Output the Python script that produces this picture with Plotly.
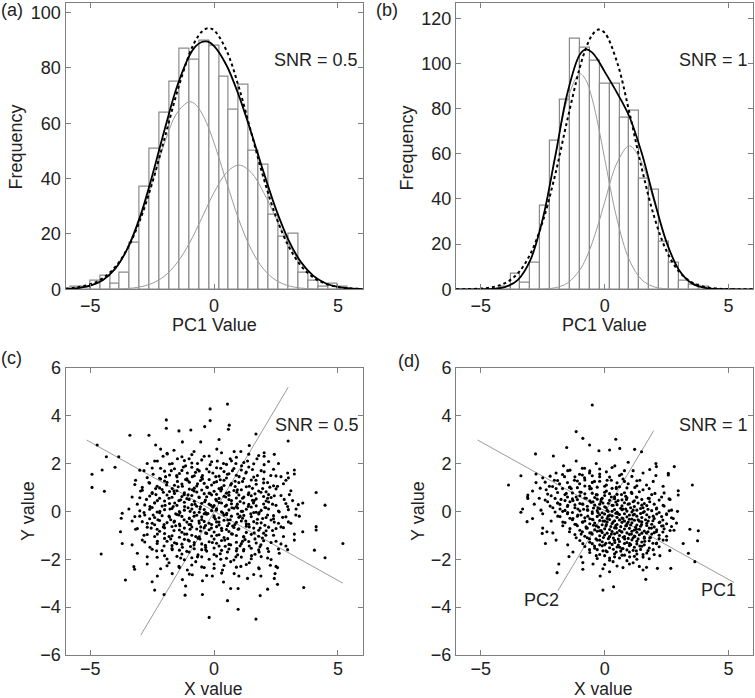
import plotly.graph_objects as go

# ---------------- histogram data (bin width 0.4) ----------------
bin_centers = [-5.6, -5.2, -4.8, -4.4, -4.0, -3.6, -3.2, -2.8, -2.4, -2.0,
               -1.6, -1.2, -0.8, -0.4, 0.0, 0.4, 0.8, 1.2, 1.6, 2.0,
               2.4, 2.8, 3.2, 3.6, 4.0, 4.4, 4.8, 5.2]
counts_a = [1, 1, 3, 5, 2, 6, 17, 37, 51, 64, 75, 87, 83, 90, 88, 77, 65, 74,
            50, 45, 27, 19, 20, 6, 3, 1, 2, 1]
counts_b = [0, 0, 0, 0, 1, 7, 3, 12, 37, 66, 84, 111, 107, 101, 91, 91, 76, 79,
            49, 44, 21, 12, 4, 2, 1, 0, 0, 0]

# fitted curves
curve_x = [-6, -5.5, -5, -4.5, -4, -3.5, -3, -2.5, -2, -1.5, -1, -0.75, -0.5,
           -0.25, 0, 0.5, 1, 1.5, 2, 2.5, 3, 3.5, 4, 4.5, 5, 5.5, 6]
comp1_a = [0.14, 0.45, 1.28, 3.24, 7.27, 14.4, 25.1, 38.8, 52.9, 63.7, 67.8, 66.8,
           63.7, 59.0, 52.9, 38.8, 25.1, 14.4, 7.27, 3.24, 1.28, 0.45, 0.14, 0.04,
           0.01, 0, 0]
comp2_a = [0, 0, 0.01, 0.02, 0.09, 0.29, 0.85, 2.15, 4.8, 9.5, 16.6, 21.0, 25.7,
           30.5, 35.0, 42.2, 44.9, 42.2, 35.0, 25.7, 16.6, 9.5, 4.8, 2.15, 0.85,
           0.29, 0.09]
mix_a = [0.14, 0.45, 1.29, 3.26, 7.36, 14.7, 26.0, 41.0, 57.7, 73.2, 84.4, 87.8,
         89.4, 89.5, 87.9, 81.0, 70.0, 56.6, 42.3, 28.9, 17.9, 9.95, 4.94, 2.19,
         0.86, 0.29, 0.09]
single_a = [0.29, 0.76, 1.81, 3.97, 7.97, 14.7, 24.8, 38.4, 54.6, 71.1, 85.0, 89.9,
            93.1, 94.4, 93.6, 86.3, 73.0, 56.6, 40.2, 26.2, 15.7, 8.6, 4.3, 2.0,
            0.85, 0.33, 0.12]

comp1_b = [0, 0, 0.03, 0.21, 1.06, 4.19, 12.9, 31.0, 57.9, 84.2, 95.4, 92.5, 84.2,
           72.0, 57.9, 31.0, 12.9, 4.19, 1.06, 0.21, 0.03, 0, 0, 0, 0, 0, 0]
comp2_b = [0, 0, 0, 0, 0, 0.01, 0.02, 0.14, 0.70, 2.79, 8.59, 13.7, 20.6, 29.1,
           38.5, 56.0, 63.5, 56.0, 38.5, 20.6, 8.59, 2.79, 0.70, 0.14, 0.02, 0, 0]
mix_b = [0, 0, 0.03, 0.21, 1.06, 4.2, 12.9, 31.1, 58.6, 87.0, 104.0, 106.2, 104.8,
         101.1, 96.4, 87.0, 76.4, 60.2, 39.6, 20.8, 8.6, 2.79, 0.70, 0.14, 0.02, 0, 0]
single_b = [0.02, 0.08, 0.31, 1.0, 2.85, 7.1, 15.6, 30.0, 50.6, 75.3, 98.3, 106.9,
            112.7, 115.0, 113.6, 100.6, 78.2, 53.5, 32.1, 16.9, 7.9, 3.2, 1.15, 0.36,
            0.10, 0.02, 0]

# ---------------- scatter (c), SNR = 0.5 ----------------
outer_c_x = [0.54, -0.16, -1.93, -1.93, -3.4, -4.72, -4.35, -3.85, -4.93, -4.93, -4.43, -4.52,
             -4.0, -4.56, -3.58, -3.24, -3.21, -3.71, -3.78, -3.71, -3.75, -2.5, -2.4, -2.02,
             -1.17, -1.15, -0.47, -0.2, 0.54, 0.97, 1.69, 1.86, 2.16, 0.67, 0.97, 2.56, 2.43,
             3.62, 4.48, 5.2, 4.05, 4.12, 4.12, 4.48, 4.12, 3.24, 3.24, 2.99, 2.43, 1.69, 0.61,
             0.58, -0.16, -0.38, -1.42, -0.94, -2.63, -2.36, 3.58]
outer_c_y = [4.48, 4.28, 3.82, 3.47, 3.18, 2.77, 2.28, 2.28, 1.55, 1.0, 0.84, 1.73,
             1.84, -1.78, -2.87, -2.31, -2.42, -1.34, -0.85, -0.08, -0.29, -2.94, -3.29, -3.47,
             -3.5, -3.12, -3.47, -4.43, -3.73, -4.09, -4.5, -3.52, -3.25, -3.22, -3.22, -3.05,
             -2.8, -3.18, -1.94, -1.34, -1.62, -0.78, -0.64, 0.26, 0.79, 1.73, 1.56, 2.94, 2.38,
             3.23, 3.6, 3.43, 3.79, 3.54, 3.36, 3.4, 3.18, 2.77, -0.85]

band_c_x = [
    -2.16, -1.62, -1.28, -0.81, -0.54, 0.11, 0.20, 0.81, 1.08, 1.42, 2.02,
    -2.70, -2.29, -2.06, -1.89, -1.69, -1.48, -1.15, -1.01, -0.67, -0.40, -0.16, 0.13, 0.38,
    0.65, 0.88, 1.11, 1.35, 1.73, 2.02, 2.02,
    -2.83, -2.46, -2.16, -1.96, -1.73, -1.51, -1.24, -1.08, -0.88, -0.67, -0.47, -0.20, 0.07,
    0.27, 0.54, 0.74, 1.01, 1.28, 1.55, 1.75, 2.02, 2.29, 2.70, 2.97,
    -3.17, -2.90, -2.63, -2.36, -2.16, -1.92, -1.69, -1.48, -1.28, -1.08, -0.88, -0.67, -0.47,
    -0.27, 0.0, 0.20, 0.40, 0.67, 0.94, 1.15, 1.42, 1.69, 1.96, 2.16, 2.56, 2.90, 3.04,
    -3.31, -2.97, -2.73, -2.50, -2.29, -2.05, -1.82, -1.62, -1.42, -1.21, -1.01, -0.81, -0.61,
    -0.38, -0.16, 0.07, 0.27, 0.47, 0.70, 0.92, 1.15, 1.38, 1.62, 1.89, 2.16, 2.43, 2.83,
    3.17, 3.58,
    -3.44, -3.10, -2.83, -2.59, -2.40, -2.19, -1.98, -1.78, -1.59, -1.38, -1.19, -0.97, -0.77,
    -0.57, -0.34, -0.13, 0.09, 0.30, 0.51, 0.72, 0.94, 1.15, 1.38, 1.59, 1.82, 2.09, 2.36,
    2.63, 2.97, 3.31,
    -3.31, -3.0, -2.70, -2.46, -2.27, -2.02, -1.82, -1.62, -1.42, -1.21, -1.01, -0.81, -0.61,
    -0.40, -0.20, 0.0, 0.20, 0.40, 0.65, 0.84, 1.05, 1.28, 1.48, 1.73, 1.96, 2.16, 2.43, 2.77,
    3.10, 3.44,
    -3.17, -2.83, -2.54, -2.29, -2.05, -1.82, -1.62, -1.38, -1.19, -0.97, -0.74, -0.54, -0.34,
    -0.11, 0.11, 0.31, 0.54, 0.74, 0.97, 1.19, 1.42, 1.62, 1.86, 2.09, 2.36, 2.70, 3.24,
    -3.31, -2.90, -2.59, -2.29, -2.02, -1.75, -1.51, -1.28, -1.05, -0.81, -0.57, -0.34, -0.07,
    0.20, 0.43, 0.67, 0.92, 1.15, 1.42, 1.65, 1.89, 2.16, 2.50, 2.90, 3.24,
    -3.10, -2.70, -2.32, -2.0, -1.69, -1.35, -1.01, -0.67, -0.34, 0.0, 0.27, 0.54, 0.88, 1.19,
    1.51, 1.82, 2.16, 2.63, 2.97,
    -2.70, -2.16, -1.82, -1.42, -1.08, -0.74, -0.40, 0.0, 0.34, 0.67, 1.08, 1.42, 1.82, 2.27,
    2.50, 2.56,
    -2.29, -1.69, -1.28, -0.88, -0.47, -0.07, 0.38, 0.81, 1.35, 1.89, 2.46,
]
band_c_y = [
    2.6, 2.55, 2.9, 2.5, 2.9, 2.6, 3.0, 2.5, 2.5, 2.75, 2.45,
    2.0, 2.1, 2.3, 2.4, 2.0, 2.2, 1.9, 2.2, 2.0, 2.3, 1.95, 2.1, 2.0, 2.2, 2.0, 1.9, 2.1, 2.2,
    1.95, 2.3,
    1.7, 1.55, 1.8, 1.45, 1.7, 1.5, 1.85, 1.6, 1.45, 1.75, 1.5, 1.65, 1.45, 1.8, 1.55, 1.7,
    1.45, 1.6, 1.75, 1.5, 1.65, 1.5, 1.45, 1.6,
    1.3, 1.0, 1.2, 0.95, 1.35, 1.1, 0.95, 1.25, 1.05, 1.3, 0.9, 1.15, 1.35, 1.0, 1.2, 0.95,
    1.3, 1.1, 0.9, 1.25, 1.05, 1.3, 0.95, 1.2, 1.05, 1.3, 0.7,
    0.6, 0.85, 0.5, 0.75, 0.45, 0.8, 0.55, 0.85, 0.45, 0.7, 0.5, 0.85, 0.6, 0.4, 0.75, 0.5,
    0.85, 0.6, 0.45, 0.8, 0.55, 0.7, 0.45, 0.8, 0.55, 0.65, 0.5, 0.45, 0.35,
    0.1, 0.3, -0.05, 0.2, 0.35, 0.0, 0.25, 0.1, 0.35, -0.05, 0.2, 0.0, 0.3, 0.1, -0.05, 0.25,
    0.05, 0.35, -0.08, 0.15, 0.3, 0.0, 0.2, 0.35, -0.05, 0.15, 0.3, -0.02, 0.2, 0.1,
    -0.4, -0.2, -0.5, -0.15, -0.35, -0.55, -0.2, -0.45, -0.15, -0.35, -0.55, -0.2, -0.4, -0.1,
    -0.5, -0.25, -0.45, -0.15, -0.35, -0.55, -0.2, -0.4, -0.1, -0.5, -0.3, -0.15, -0.45,
    -0.25, -0.5, -0.2,
    -0.75, -1.0, -0.7, -0.95, -0.65, -1.05, -0.8, -0.6, -0.95, -0.75, -1.05, -0.65, -0.9,
    -0.7, -1.0, -0.8, -0.6, -0.95, -0.75, -1.05, -0.65, -0.9, -0.7, -1.0, -0.8, -0.65, -0.95,
    -1.4, -1.2, -1.5, -1.25, -1.45, -1.15, -1.35, -1.5, -1.2, -1.4, -1.15, -1.5, -1.3, -1.45,
    -1.2, -1.4, -1.55, -1.25, -1.45, -1.15, -1.4, -1.55, -1.25, -1.45, -1.2,
    -1.75, -1.9, -1.65, -1.85, -1.6, -1.95, -1.7, -1.9, -1.6, -1.8, -2.0, -1.7, -1.9, -1.65,
    -1.85, -1.7, -1.95, -1.75, -1.6,
    -2.2, -2.4, -2.15, -2.3, -2.45, -2.1, -2.35, -2.2, -2.45, -2.1, -2.3, -2.15, -2.4, -2.25,
    -2.3, -2.35,
    -2.7, -2.6, -2.85, -2.65, -2.9, -2.7, -2.95, -2.6, -2.8, -2.7, -2.6,
]

fill_c_x = [
    -1.9, -1.3, -0.9, -0.2, 0.3, 0.9, 1.4, 1.8,
    -2.4, -1.8, -1.2, -0.9, -0.5, -0.1, 0.5, 0.7, 1.2, 1.6, 2.2, 2.6,
    -3.0, -2.5, -2.0, -1.6, -1.3, -0.9, -0.6, -0.3, 0.1, 0.4, 0.8, 1.1, 1.4, 1.9, 2.4,
    -2.7, -2.2, -1.8, -1.5, -1.1, -0.8, -0.5, -0.2, 0.2, 0.5, 0.9, 1.2, 1.6, 2.0, 2.5, 3.0,
    -3.2, -2.6, -2.3, -1.9, -1.6, -1.3, -1.0, -0.7, -0.4, -0.1, 0.1, 0.4, 0.7, 1.0, 1.3, 1.7,
    2.0, 2.4, 2.8,
    -2.9, -2.5, -2.1, -1.8, -1.5, -1.2, -1.0, -0.7, -0.5, -0.2, 0.0, 0.3, 0.6, 0.8, 1.1, 1.4,
    1.8, 2.1, 2.5, 3.1,
    -3.0, -2.6, -2.2, -1.9, -1.7, -1.3, -1.1, -0.9, -0.6, -0.3, -0.1, 0.2, 0.4, 0.6, 0.9, 1.2,
    1.5, 1.7, 2.0, 2.3, 2.7,
    -2.8, -2.4, -2.1, -1.8, -1.5, -1.2, -0.9, -0.7, -0.5, -0.2, 0.0, 0.2, 0.5, 0.7, 0.9, 1.2,
    1.4, 1.7, 2.0, 2.2, 2.5, 2.9, 3.4,
    -3.0, -2.6, -2.3, -2.0, -1.7, -1.4, -1.2, -0.9, -0.6, -0.4, -0.1, 0.1, 0.3, 0.6, 0.8, 1.1,
    1.3, 1.6, 1.9, 2.2, 2.6, 3.0,
    -3.2, -2.8, -2.4, -2.1, -1.8, -1.5, -1.3, -1.0, -0.7, -0.5, -0.3, 0.0, 0.2, 0.5, 0.7, 1.0,
    1.2, 1.5, 1.8, 2.1, 2.4, 2.9, 3.3,
    -2.9, -2.5, -2.2, -1.9, -1.6, -1.4, -1.1, -0.9, -0.6, -0.4, -0.1, 0.1, 0.4, 0.6, 0.9, 1.1,
    1.3, 1.6, 1.9, 2.3, 2.6, 3.0,
    -3.1, -2.7, -2.3, -2.0, -1.7, -1.4, -1.2, -0.9, -0.7, -0.4, -0.2, 0.1, 0.3, 0.5, 0.8, 1.0,
    1.3, 1.6, 1.8, 2.2, 2.5, 2.8,
    -2.7, -2.4, -2.0, -1.7, -1.4, -1.1, -0.9, -0.6, -0.3, -0.1, 0.2, 0.4, 0.7, 0.9, 1.2, 1.5,
    1.8, 2.0, 2.4, 2.8,
    -2.8, -2.3, -1.9, -1.6, -1.3, -1.0, -0.8, -0.5, -0.2, 0.1, 0.3, 0.6, 0.9, 1.1, 1.4, 1.7,
    2.0, 2.3, 2.7,
    -2.5, -2.1, -1.7, -1.4, -1.1, -0.8, -0.5, -0.3, 0.0, 0.3, 0.6, 0.9, 1.2, 1.5, 1.8, 2.2, 2.6,
    -2.3, -1.9, -1.5, -1.2, -0.9, -0.5, -0.2, 0.1, 0.5, 0.8, 1.1, 1.5, 1.9, 2.3,
    -1.9, -1.4, -0.9, -0.5, 0.0, 0.4, 0.9, 1.3, 1.8,
    -1.0, -0.3, 0.3, 1.0, 1.6,
]
fill_c_y = [
    2.42, 2.28, 2.37, 2.31, 2.45, 2.26, 2.39, 2.33,
    2.1, 1.98, 2.12, 2.02, 2.15, 2.07, 1.96, 2.11, 2.04, 1.99, 2.08, 2.0,
    1.72, 1.81, 1.68, 1.78, 1.71, 1.84, 1.69, 1.77, 1.82, 1.66, 1.79, 1.73, 1.85, 1.7, 1.76,
    1.41, 1.38, 1.52, 1.44, 1.36, 1.49, 1.42, 1.33, 1.47, 1.39, 1.51, 1.37, 1.43, 1.35, 1.48, 1.4,
    1.12, 1.18, 1.05, 1.21, 1.09, 1.14, 1.22, 1.06, 1.17, 1.1, 1.24, 1.08, 1.16, 1.2, 1.03, 1.13,
    1.19, 1.07, 1.15,
    0.88, 0.79, 0.91, 0.83, 0.86, 0.78, 0.93, 0.81, 0.89, 0.76, 0.84, 0.92, 0.8, 0.87, 0.9, 0.77,
    0.85, 0.82, 0.94, 0.86,
    0.57, 0.64, 0.55, 0.68, 0.59, 0.62, 0.53, 0.66, 0.58, 0.61, 0.69, 0.54, 0.63, 0.67, 0.56, 0.6,
    0.65, 0.52, 0.62, 0.58, 0.66,
    0.27, 0.36, 0.22, 0.33, 0.25, 0.38, 0.28, 0.21, 0.34, 0.3, 0.24, 0.37, 0.26, 0.32, 0.2, 0.35,
    0.29, 0.23, 0.31, 0.39, 0.25, 0.33, 0.28,
    0.02, 0.09, -0.03, 0.07, 0.12, -0.01, 0.05, 0.1, -0.04, 0.08, 0.03, 0.11, -0.02, 0.06, 0.13,
    0.0, 0.09, -0.05, 0.04, 0.1, 0.01, 0.07,
    -0.22, -0.15, -0.26, -0.18, -0.24, -0.13, -0.21, -0.28, -0.16, -0.23, -0.12, -0.19, -0.27,
    -0.14, -0.2, -0.25, -0.17, -0.22, -0.11, -0.26, -0.18, -0.23, -0.15,
    -0.43, -0.5, -0.38, -0.47, -0.41, -0.53, -0.45, -0.39, -0.49, -0.42, -0.55, -0.44, -0.37,
    -0.51, -0.46, -0.4, -0.52, -0.43, -0.48, -0.36, -0.5, -0.44,
    -0.72, -0.66, -0.75, -0.69, -0.63, -0.78, -0.7, -0.65, -0.74, -0.68, -0.77, -0.64, -0.71,
    -0.76, -0.67, -0.73, -0.62, -0.7, -0.79, -0.66, -0.72, -0.68,
    -0.97, -1.05, -0.93, -1.02, -1.08, -0.95, -1.0, -1.06, -0.92, -1.03, -0.98, -1.09, -0.94,
    -1.01, -1.07, -0.96, -1.04, -0.91, -1.0, -1.05,
    -1.28, -1.34, -1.25, -1.31, -1.37, -1.24, -1.3, -1.36, -1.27, -1.33, -1.22, -1.38, -1.29,
    -1.35, -1.26, -1.32, -1.23, -1.3, -1.36,
    -1.58, -1.64, -1.55, -1.62, -1.67, -1.56, -1.6, -1.66, -1.53, -1.63, -1.57, -1.65, -1.59,
    -1.54, -1.61, -1.68, -1.57,
    -1.92, -1.99, -1.88, -2.02, -1.94, -1.9, -2.0, -1.87, -1.96, -2.03, -1.91, -1.98, -1.89, -2.01,
    -2.27, -2.35, -2.24, -2.32, -2.38, -2.26, -2.33, -2.22, -2.36,
    -2.62, -2.68, -2.58, -2.7, -2.64,
]

core_c_x = [
    -1.4, -0.75, -0.05, 0.6, 1.3,
    -2.0, -1.15, -0.55, 0.25, 0.85, 1.5,
    -2.2, -1.45, -0.8, -0.3, 0.3, 0.85, 1.55, 2.25,
    -2.35, -1.6, -1.05, -0.4, 0.1, 0.5, 1.0, 1.65, 2.2,
    -2.0, -1.35, -0.8, -0.35, 0.1, 0.6, 1.05, 1.55, 2.1,
    -2.5, -1.65, -1.05, -0.55, -0.05, 0.45, 0.95, 1.5, 2.05,
    -2.2, -1.55, -0.8, -0.25, 0.35, 0.95, 1.7,
    -2.6, -1.75, -1.0, -0.5, 0.05, 0.55, 1.15, 1.75, 2.4,
    -2.4, -1.55, -0.95, -0.35, 0.2, 0.75, 1.4, 2.05,
    -2.2, -1.3, -0.55, 0.0, 0.6, 1.3, 2.1,
    -2.0, -1.2, -0.65, 0.0, 0.55, 1.25, 1.95,
    -1.7, -0.95, -0.35, 0.45, 1.05, 1.85,
    -1.3, -0.65, 0.25, 0.95, 1.65,
]
core_c_y = [
    1.58, 1.63, 1.6, 1.57, 1.64,
    1.27, 1.33, 1.29, 1.32, 1.26, 1.31,
    0.98, 1.03, 0.97, 1.02, 0.99, 1.04, 0.96, 1.01,
    0.7, 0.75, 0.69, 0.74, 0.71, 0.76, 0.68, 0.73, 0.7,
    0.43, 0.48, 0.42, 0.47, 0.44, 0.49, 0.41, 0.46, 0.43,
    0.16, 0.2, 0.15, 0.19, 0.17, 0.21, 0.14, 0.18, 0.16,
    -0.06, -0.1, -0.05, -0.09, -0.07, -0.11, -0.04,
    -0.31, -0.35, -0.3, -0.34, -0.32, -0.36, -0.29, -0.33, -0.31,
    -0.56, -0.6, -0.55, -0.59, -0.57, -0.61, -0.54, -0.58,
    -0.83, -0.87, -0.82, -0.86, -0.84, -0.88, -0.81,
    -1.13, -1.17, -1.12, -1.16, -1.14, -1.18, -1.11,
    -1.43, -1.47, -1.42, -1.46, -1.44, -1.48,
    -1.78, -1.82, -1.77, -1.81, -1.79,
]

# ---------------- scatter (d), SNR = 1 ----------------
outer_d_x = [-0.5, -1.15, -0.88, 0.45, -0.61, -1.53, -0.23, -2.79, -2.07, 0.2, 0.61, 1.21, 1.49,
             2.07, 2.09, 2.81, 2.57, 2.57, -3.88, -3.38, -2.77, 3.54, 2.97, 2.97, 2.94, -3.38,
             -3.13, -3.1, -3.1, -2.52, -2.33, 3.78, 3.75, 3.44, 3.17, 3.38, 3.64, 2.63, 2.67,
             2.13, 1.66, 1.69, 0.36, -0.07, -0.18, 0.2, -0.88, -1.85, -1.92, -1.44, -0.88, -2.39]
outer_d_y = [4.44, 3.33, 3.05, 3.01, 2.77, 2.67, 2.53, 2.4, 2.31, 2.56, 2.63, 2.59, 2.49,
             2.0, 1.87, 1.87, 1.59, 1.52, 1.1, 1.49, 1.56, 1.1, 0.86, 0.68, 0.0, -0.04,
             -0.43, 0.68, 0.54, -0.92, -0.85, -0.81, -1.23, -0.75, -1.34, -1.75, -2.1, -1.64,
             -2.38, -2.38, -2.84, -2.34, -3.15, -3.29, -2.7, -2.52, -2.42, -2.2, -2.56, -1.89,
             -2.14, -1.34]

band_d_x = [
    -1.96, -1.66, -1.49, -1.15, -1.01, -0.81, -0.61, -0.34, 0.07, 0.41, 0.68, 0.95, 1.15,
    1.55, 1.82, 2.07,
    -2.77, -2.5, -2.23, -2.03, -1.82, -1.62, -1.42, -1.22, -1.01, -0.81, -0.61, -0.41, -0.20,
    0.07, 0.27, 0.47, 0.74, 0.95, 1.22, 1.42, 1.69, 1.96, 2.36,
    -3.11, -2.91, -2.64, -2.36, -2.16, -1.96, -1.76, -1.55, -1.35, -1.15, -0.95, -0.74, -0.54,
    -0.34, -0.14, 0.07, 0.27, 0.47, 0.68, 0.88, 1.08, 1.28, 1.55, 1.76, 2.03, 2.30, 2.64,
    -3.31, -2.84, -2.57, -2.30, -2.09, -1.89, -1.69, -1.49, -1.28, -1.08, -0.88, -0.68, -0.47,
    -0.27, -0.07, 0.14, 0.34, 0.54, 0.74, 0.95, 1.15, 1.35, 1.55, 1.82, 2.09, 2.36, 2.70,
    -2.91, -2.5, -2.16, -1.89, -1.69, -1.49, -1.28, -1.08, -0.88, -0.68, -0.47, -0.27, -0.07,
    0.14, 0.34, 0.54, 0.74, 0.95, 1.15, 1.35, 1.55, 1.76, 1.96, 2.23, 2.50, 2.77,
    -2.5, -2.09, -1.69, -1.42, -1.15, -0.95, -0.74, -0.54, -0.34, -0.14, 0.07, 0.27, 0.47,
    0.68, 0.88, 1.08, 1.28, 1.49, 1.69, 1.89, 2.09, 2.36, 2.64,
    -1.96, -1.49, -1.15, -0.88, -0.61, -0.41, -0.20, 0.0, 0.20, 0.41, 0.61, 0.81, 1.01, 1.22,
    1.42, 1.62, 1.82, 2.09, 2.36,
    -1.28, -0.95, -0.61, -0.34, -0.07, 0.20, 0.47, 0.74, 1.01, 1.28, 1.55, 1.96, 2.23,
    -0.47, -0.07, 0.34, 0.74, 1.15, 1.55,
]
band_d_y = [
    1.6, 1.9, 1.7, 2.1, 1.55, 1.8, 1.6, 2.0, 1.65, 1.9, 1.55, 2.05, 1.7, 1.6, 1.75, 1.5,
    1.2, 1.4, 1.05, 1.3, 1.15, 1.45, 1.0, 1.3, 1.15, 1.4, 1.05, 1.25, 1.45, 1.1, 1.3, 1.0,
    1.35, 1.15, 1.0, 1.3, 1.1, 1.25, 1.05,
    0.6, 0.85, 0.55, 0.9, 0.65, 0.95, 0.5, 0.75, 0.95, 0.6, 0.8, 0.55, 0.95, 0.7, 0.5, 0.85,
    0.6, 0.95, 0.7, 0.5, 0.8, 0.6, 0.9, 0.55, 0.75, 0.6, 0.5,
    0.1, 0.3, 0.05, 0.4, 0.15, 0.35, 0.0, 0.25, 0.45, 0.1, 0.3, 0.05, 0.4, 0.15, 0.35, 0.0,
    0.25, 0.45, 0.1, 0.3, 0.05, 0.35, 0.15, 0.4, 0.1, 0.25, 0.05,
    -0.3, -0.1, -0.4, -0.2, -0.45, -0.05, -0.3, -0.15, -0.45, -0.2, -0.35, -0.05, -0.4, -0.2,
    -0.45, -0.1, -0.3, -0.45, -0.15, -0.35, -0.05, -0.4, -0.2, -0.45, -0.1, -0.3,
    -0.7, -0.9, -0.6, -0.85, -0.55, -0.95, -0.7, -0.9, -0.6, -0.8, -0.55, -0.95, -0.7, -0.85,
    -0.6, -0.95, -0.75, -0.55, -0.9, -0.7, -0.85, -0.6, -0.8,
    -1.2, -1.4, -1.1, -1.35, -1.15, -1.45, -1.2, -1.4, -1.05, -1.3, -1.5, -1.15, -1.35, -1.05,
    -1.45, -1.25, -1.1, -1.35, -1.2,
    -1.7, -1.9, -1.6, -1.85, -1.65, -1.95, -1.7, -1.55, -1.9, -1.65, -1.8, -1.6, -1.85,
    -2.2, -2.4, -2.1, -2.35, -2.15, -2.45,
]

fill_d_x = [
    -1.4, -0.9, -0.6, -0.2, 0.3, 0.8,
    -2.2, -1.7, -1.2, -0.9, -0.5, -0.2, 0.2, 0.6, 1.1,
    -2.4, -1.9, -1.5, -1.1, -0.8, -0.5, -0.2, 0.1, 0.5, 0.8, 1.3,
    -2.6, -2.1, -1.7, -1.4, -1.1, -0.8, -0.6, -0.3, 0.0, 0.3, 0.6, 0.9, 1.3, 1.8,
    -2.3, -1.9, -1.6, -1.3, -1.0, -0.8, -0.5, -0.3, 0.0, 0.2, 0.5, 0.8, 1.1, 1.4, 1.9, 2.4,
    -2.4, -2.0, -1.6, -1.3, -1.1, -0.8, -0.6, -0.3, -0.1, 0.2, 0.4, 0.7, 0.9, 1.2, 1.5, 1.8,
    2.2, 2.6,
    -2.2, -1.8, -1.5, -1.2, -0.9, -0.7, -0.4, -0.2, 0.0, 0.3, 0.5, 0.7, 1.0, 1.2, 1.5, 1.7,
    2.0, 2.4,
    -2.0, -1.6, -1.3, -1.0, -0.7, -0.5, -0.3, -0.1, 0.1, 0.3, 0.5, 0.7, 0.9, 1.1, 1.3, 1.6,
    1.9, 2.2, 2.6,
    -1.8, -1.4, -1.1, -0.8, -0.6, -0.3, -0.1, 0.1, 0.3, 0.5, 0.7, 0.9, 1.1, 1.3, 1.5, 1.8,
    2.0, 2.3, 2.7,
    -1.6, -1.2, -0.9, -0.6, -0.4, -0.1, 0.1, 0.3, 0.5, 0.7, 0.9, 1.1, 1.3, 1.5, 1.7, 1.9,
    2.2, 2.5, 2.9,
    -1.4, -1.0, -0.7, -0.4, -0.2, 0.0, 0.2, 0.4, 0.6, 0.8, 1.0, 1.2, 1.4, 1.6, 1.8, 2.1,
    2.4, 2.8,
    -1.2, -0.8, -0.5, -0.2, 0.0, 0.2, 0.4, 0.6, 0.8, 1.0, 1.2, 1.4, 1.6, 1.9, 2.2, 2.5,
    -1.0, -0.6, -0.3, -0.1, 0.2, 0.4, 0.6, 0.9, 1.1, 1.3, 1.5, 1.8, 2.1, 2.5,
    -0.8, -0.4, -0.1, 0.2, 0.5, 0.7, 1.0, 1.2, 1.5, 1.8, 2.2,
    -0.6, -0.2, 0.1, 0.4, 0.7, 1.0, 1.3, 1.7, 2.0,
    -0.3, 0.2, 0.6, 0.9, 1.3, 1.8,
    0.0, 0.5, 1.0, 1.4,
]
fill_d_y = [
    1.72, 1.8, 1.69, 1.77, 1.83, 1.7,
    1.47, 1.54, 1.44, 1.52, 1.49, 1.56, 1.43, 1.5, 1.46,
    1.22, 1.29, 1.2, 1.27, 1.31, 1.21, 1.26, 1.3, 1.19, 1.25, 1.28,
    0.97, 1.04, 0.95, 1.02, 0.99, 1.06, 0.94, 1.01, 1.05, 0.96, 1.03, 0.98, 1.07, 0.95,
    0.72, 0.79, 0.7, 0.77, 0.81, 0.73, 0.76, 0.69, 0.8, 0.74, 0.71, 0.78, 0.75, 0.82, 0.7, 0.77,
    0.47, 0.54, 0.45, 0.52, 0.49, 0.56, 0.44, 0.51, 0.55, 0.46, 0.53, 0.48, 0.57, 0.44, 0.5,
    0.54, 0.47, 0.52,
    0.22, 0.29, 0.2, 0.27, 0.31, 0.21, 0.26, 0.3, 0.19, 0.25, 0.28, 0.23, 0.32, 0.2, 0.26,
    0.24, 0.3, 0.22,
    -0.03, 0.04, -0.05, 0.02, 0.06, -0.02, 0.03, -0.06, 0.05, 0.0, -0.04, 0.07, 0.01, -0.03,
    0.05, -0.01, 0.03, -0.05, 0.02,
    -0.22, -0.29, -0.2, -0.27, -0.31, -0.21, -0.26, -0.3, -0.19, -0.25, -0.28, -0.23, -0.32,
    -0.2, -0.26, -0.24, -0.3, -0.22, -0.27,
    -0.47, -0.54, -0.45, -0.52, -0.49, -0.56, -0.44, -0.51, -0.55, -0.46, -0.53, -0.48, -0.57,
    -0.44, -0.5, -0.54, -0.47, -0.52, -0.49,
    -0.72, -0.79, -0.7, -0.77, -0.81, -0.73, -0.76, -0.69, -0.8, -0.74, -0.71, -0.78, -0.75,
    -0.82, -0.7, -0.77, -0.73, -0.79,
    -0.97, -1.04, -0.95, -1.02, -0.99, -1.06, -0.94, -1.01, -1.05, -0.96, -1.03, -0.98, -1.07,
    -0.95, -1.0, -1.04,
    -1.22, -1.29, -1.2, -1.27, -1.31, -1.21, -1.26, -1.3, -1.19, -1.25, -1.28, -1.23, -1.32, -1.2,
    -1.47, -1.54, -1.44, -1.52, -1.49, -1.56, -1.43, -1.5, -1.46, -1.53, -1.48,
    -1.72, -1.8, -1.69, -1.77, -1.83, -1.7, -1.78, -1.74, -1.8,
    -1.97, -2.04, -1.95, -2.06, -2.0, -1.98,
    -2.22, -2.28, -2.2, -2.3,
]

core_d_x = [
    -1.5, -1.0, -0.4, 0.0, 0.4, 0.85, 1.3,
    -1.9, -1.4, -1.0, -0.55, -0.15, 0.15, 0.45, 0.8, 1.15, 1.6,
    -1.8, -1.2, -0.85, -0.45, -0.2, 0.05, 0.4, 0.65, 0.85, 1.05, 1.45, 1.75, 2.1,
    -1.5, -0.95, -0.5, -0.2, 0.0, 0.2, 0.45, 0.6, 0.8, 1.0, 1.2, 1.45, 1.7, 2.1, 2.5,
    -1.3, -0.8, -0.5, -0.2, 0.0, 0.2, 0.4, 0.6, 0.8, 1.0, 1.2, 1.4, 1.65, 1.95, 2.35,
    -1.1, -0.75, -0.45, -0.25, 0.05, 0.25, 0.45, 0.65, 0.85, 1.05, 1.25, 1.45, 1.7, 2.0, 2.3, 2.7,
    -0.9, -0.6, -0.3, -0.1, 0.1, 0.3, 0.5, 0.7, 0.9, 1.1, 1.3, 1.5, 1.75, 2.0, 2.35,
    -0.7, -0.35, -0.05, 0.15, 0.35, 0.55, 0.75, 0.95, 1.15, 1.35, 1.6, 1.85, 2.2,
    -0.5, -0.2, 0.05, 0.3, 0.55, 0.8, 1.05, 1.3, 1.6, 1.95,
    -0.3, 0.05, 0.35, 0.65, 0.9, 1.15, 1.45, 1.75,
    0.0, 0.4, 0.8, 1.2, 1.55,
]
core_d_y = [
    0.6, 0.65, 0.58, 0.66, 0.61, 0.63, 0.59,
    0.35, 0.4, 0.33, 0.38, 0.41, 0.34, 0.39, 0.36, 0.4, 0.33,
    0.1, 0.15, 0.09, 0.14, 0.11, 0.16, 0.08, 0.13, 0.1, 0.15, 0.12, 0.09, 0.14,
    -0.1, -0.15, -0.09, -0.14, -0.11, -0.16, -0.08, -0.13, -0.1, -0.15, -0.12, -0.09, -0.14,
    -0.11, -0.13,
    -0.35, -0.4, -0.33, -0.38, -0.41, -0.34, -0.39, -0.36, -0.4, -0.33, -0.37, -0.41, -0.35,
    -0.39, -0.36,
    -0.6, -0.65, -0.58, -0.66, -0.61, -0.63, -0.59, -0.64, -0.6, -0.57, -0.66, -0.62, -0.59,
    -0.65, -0.61, -0.63,
    -0.85, -0.9, -0.83, -0.88, -0.91, -0.84, -0.89, -0.86, -0.9, -0.83, -0.87, -0.91, -0.85,
    -0.89, -0.86,
    -1.1, -1.15, -1.09, -1.14, -1.11, -1.16, -1.08, -1.13, -1.1, -1.15, -1.12, -1.09, -1.14,
    -1.35, -1.4, -1.33, -1.38, -1.41, -1.34, -1.39, -1.36, -1.4, -1.33,
    -1.6, -1.65, -1.58, -1.66, -1.61, -1.63, -1.59, -1.64,
    -1.85, -1.9, -1.83, -1.88, -1.91,
]

# principal component axes (end points)
pc1_c_x = [-5.15, 5.2]
pc1_c_y = [2.98, -3.0]
pc2_c_x = [-2.96, 2.99]
pc2_c_y = [-5.17, 5.18]
pc1_d_x = [-5.13, 5.22]
pc1_d_y = [2.98, -2.97]
pc2_d_x = [-1.89, 1.98]
pc2_d_y = [-3.32, 3.37]

pts_c_x = outer_c_x + band_c_x + fill_c_x + core_c_x
pts_c_y = outer_c_y + band_c_y + fill_c_y + core_c_y
pts_d_x = outer_d_x + band_d_x + fill_d_x + core_d_x
pts_d_y = outer_d_y + band_d_y + fill_d_y + core_d_y

INK = "#222222"
FRAME = "#7f7f7f"
BAR_EDGE = "#8a8a8a"
THIN = "#9a9a9a"
FONT = "Liberation Sans, Arial, Helvetica, sans-serif"

fig = go.Figure()


def add_hist(counts, c1, c2, mix, single, xa, ya):
    fig.add_trace(go.Bar(x=bin_centers, y=counts, width=0.4, xaxis=xa, yaxis=ya,
                         marker=dict(color="white", line=dict(color=BAR_EDGE, width=1.2))))
    for comp in (c1, c2):
        fig.add_trace(go.Scatter(x=curve_x, y=comp, mode="lines", xaxis=xa, yaxis=ya,
                                 line=dict(color=THIN, width=1, shape="spline")))
    fig.add_trace(go.Scatter(x=curve_x, y=single, mode="lines", xaxis=xa, yaxis=ya,
                             line=dict(color="black", width=2, dash="dot", shape="spline")))
    fig.add_trace(go.Scatter(x=curve_x, y=mix, mode="lines", xaxis=xa, yaxis=ya,
                             line=dict(color="black", width=1.8, shape="spline")))


def add_cloud(px, py, l1x, l1y, l2x, l2y, xa, ya):
    for lx, ly in ((l1x, l1y), (l2x, l2y)):
        fig.add_trace(go.Scatter(x=lx, y=ly, mode="lines", xaxis=xa, yaxis=ya,
                                 line=dict(color=THIN, width=1)))
    fig.add_trace(go.Scatter(x=px, y=py, mode="markers", xaxis=xa, yaxis=ya,
                             marker=dict(color="black", size=3.1, line=dict(width=0))))


add_hist(counts_a, comp1_a, comp2_a, mix_a, single_a, "x", "y")
add_hist(counts_b, comp1_b, comp2_b, mix_b, single_b, "x2", "y2")
add_cloud(pts_c_x, pts_c_y, pc1_c_x, pc1_c_y, pc2_c_x, pc2_c_y, "x3", "y3")
add_cloud(pts_d_x, pts_d_y, pc1_d_x, pc1_d_y, pc2_d_x, pc2_d_y, "x4", "y4")

W, H = 755, 698
AX = dict(showline=True, linecolor=FRAME, linewidth=1, mirror="ticks", ticks="inside",
          ticklen=5, tickcolor=FRAME, showgrid=False, zeroline=False, automargin=False,
          tickfont=dict(size=18, color=INK, family=FONT))

dom_left = [65.5 / W, 362.7 / W]
dom_right = [456 / W, 753.3 / W]
dom_top = [(H - 289.3) / H, (H - 2.7) / H]
dom_bot = [(H - 655) / H, (H - 367.7) / H]

xt = dict(tickvals=[-5, 0, 5], range=[-6, 6])
xt_low = dict(tickvals=[-5, 0, 5], range=[-6, 6], ticklabelstandoff=-3)
fig.update_layout(
    template="none",
    width=W, height=H, showlegend=False, barmode="overlay", bargap=0,
    margin=dict(l=0, r=0, t=0, b=0, autoexpand=False),
    paper_bgcolor="white", plot_bgcolor="white",
    font=dict(family=FONT, size=18, color=INK),
    xaxis=dict(**AX, **xt, domain=dom_left, anchor="y"),
    yaxis=dict(**AX, range=[0, 103.6], tickvals=[0, 20, 40, 60, 80, 100],
               domain=dom_top, anchor="x"),
    xaxis2=dict(**AX, **xt, domain=dom_right, anchor="y2"),
    yaxis2=dict(**AX, range=[0, 126.9], tickvals=[0, 20, 40, 60, 80, 100, 120],
                domain=dom_top, anchor="x2"),
    xaxis3=dict(**AX, **xt_low, domain=dom_left, anchor="y3"),
    yaxis3=dict(**AX, range=[-6, 6], tickvals=[-6, -4, -2, 0, 2, 4, 6],
                domain=dom_bot, anchor="x3"),
    xaxis4=dict(**AX, **xt_low, domain=dom_right, anchor="y4"),
    yaxis4=dict(**AX, range=[-6, 6], tickvals=[-6, -4, -2, 0, 2, 4, 6],
                domain=dom_bot, anchor="x4"),
)


def pa(text, x, y, angle=0, size=18):
    fig.add_annotation(text=text, x=x / W, y=(H - y) / H, xref="paper", yref="paper",
                       xanchor="center", yanchor="middle", showarrow=False,
                       textangle=angle, font=dict(size=size, color=INK))


def da(text, x, y, xr, yr, anchor="right"):
    fig.add_annotation(text=text, x=x, y=y, xref=xr, yref=yr, xanchor=anchor,
                       yanchor="middle", showarrow=False, font=dict(size=18, color=INK))


pa("(a)", 11.5, 10)
pa("(b)", 387.5, 10)
pa("(c)", 11.5, 357.5)
pa("(d)", 408.5, 360.5)
pa("Frequency", 16, 147.5, -90)
pa("Frequency", 407, 147.5, -90)
pa("PC1 Value", 214, 325)
pa("PC1 Value", 604.5, 325)
pa("Y value", 28, 511, -90)
pa("Y value", 418, 511, -90)
pa("X value", 213.3, 688.5, size=17.5)
pa("X value", 603.3, 688.5, size=17.5)

da("SNR = 0.5", 5.9, 83, "x", "y")
da("SNR = 1", 5.85, 101.6, "x2", "y2")
da("SNR = 0.5", 5.95, 3.6, "x3", "y3")
da("SNR = 1", 5.85, 3.6, "x4", "y4")
da("PC2", -2.53, -3.7, "x4", "y4", "center")
da("PC1", 4.59, -3.29, "x4", "y4", "center")

# the page body carries a default 8px margin; drop it so the figure sits at 0,0
fig.write_html("out.html", config={"displayModeBar": False},
               post_script="document.body.style.margin='0px';")
